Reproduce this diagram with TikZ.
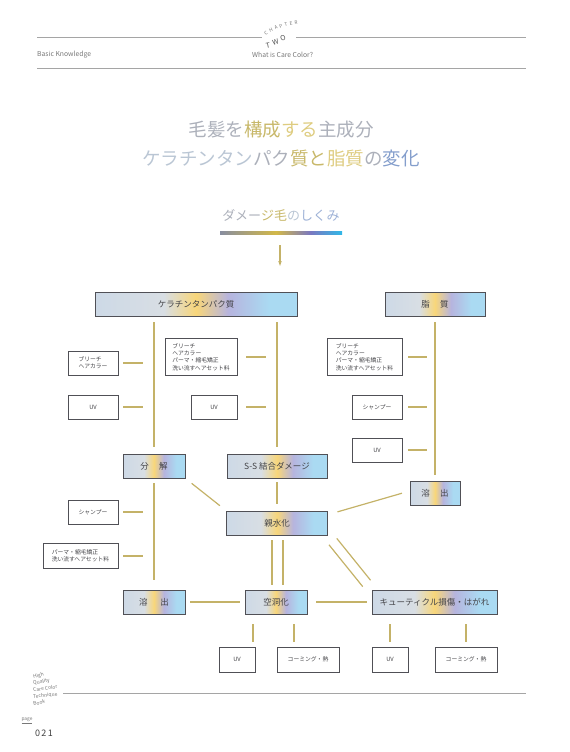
\documentclass[tikz,border=0pt]{standalone}
\usepackage{fontspec}
\setmainfont{Noto Sans CJK JP}
\usetikzlibrary{arrows.meta}

\definecolor{linegold}{RGB}{196,178,104}
\definecolor{boxline}{RGB}{80,80,86}
\definecolor{labelgray}{RGB}{68,68,72}
\definecolor{headgray}{RGB}{120,120,120}
\definecolor{rulegray}{RGB}{165,165,165}
\definecolor{shadeA}{RGB}{205,217,230}
\definecolor{shadeB}{RGB}{216,222,228}
\definecolor{shadeC}{RGB}{248,214,122}
\definecolor{shadeD}{RGB}{182,180,222}
\definecolor{shadeE}{RGB}{170,218,242}
\definecolor{barA}{RGB}{136,142,160}
\definecolor{barB}{RGB}{210,184,72}
\definecolor{barC}{RGB}{122,120,192}
\definecolor{barD}{RGB}{48,184,232}
\definecolor{tgray}{RGB}{172,176,186}
\definecolor{tlblue}{RGB}{186,198,212}
\definecolor{tgold}{RGB}{200,184,106}
\definecolor{tlgold}{RGB}{222,204,128}
\definecolor{tblue}{RGB}{132,158,204}

\pgfdeclarehorizontalshading{boxshade}{100bp}{color(0bp)=(shadeA); color(25bp)=(shadeA); color(42bp)=(shadeB); color(50bp)=(shadeC); color(58bp)=(shadeD); color(68bp)=(shadeE); color(100bp)=(shadeE)}
\pgfdeclarehorizontalshading{barshade}{100bp}{color(0bp)=(barA); color(25bp)=(barA); color(48bp)=(barB); color(62bp)=(barC); color(75bp)=(barD); color(100bp)=(barD)}

\begin{document}
\begin{tikzpicture}[x = 1pt, y = -1pt,
	link/.style = {draw = linegold, line width = 1.2pt},
	headline/.style = {draw = rulegray, line width = 0.8pt},
	mainbox/.style = {draw = boxline, line width = 0.7pt, shading = boxshade, text = labelgray,
		font = \fontsize{8.5}{10}\selectfont, inner sep = 0pt, minimum height = 24pt},
	subbox/.style = {draw = boxline, line width = 0.6pt, fill = white, text = labelgray,
		font = \fontsize{5.8}{7.2}\selectfont, inner sep = 0pt, align = left, minimum height = 24pt},
	headtext/.style = {text = headgray, font = \fontsize{6.8}{7}\selectfont, inner sep = 0pt}]
	\useasboundingbox (0,0) rectangle (570,752);

	% header
	\draw [headline] (37,37) -- (262,37);
	\draw [headline] (296,37) -- (526,37);
	\draw [headline] (37,68) -- (526,68);
	\node [headtext, anchor = west] (basic) at (37,55) {Basic Knowledge};
	\node [headtext, anchor = west] (whatis) at (252,55) {What is Care Color?};
	\foreach \ch/\px/\py/\ang [count = \i] in {C/266/33/32,H/271/30/26,A/276/27.6/20,P/281/26/15,T/286/24.6/11,E/291/23.6/7,R/296/23/4}{
	\node [headtext, font = \fontsize{4.8}{5}\selectfont, rotate = \ang] (chap\i) at (\px,\py) {\ch};
	}
	\foreach \ch/\px/\py/\ang [count = \i] in {T/268/45.5/10,W/275.5/42.5/18,O/283/38.5/24}{
	\node [headtext, text = black!70, font = \fontsize{7}{8}\selectfont, rotate = \ang] (two\i) at (\px,\py) {\ch};
	}

	% title
	\node [font = \fontsize{18.5}{20}\selectfont] (title1) at (281,130)
		{\color{tgray}毛髪を\color{tgold}構成\color{tlgold}する\color{tgray}主成分};
	\node [font = \fontsize{18.5}{20}\selectfont] (title2) at (281,158)
		{\color{tlblue}ケラチンタン\color{tgray}パク\color{tgold}質と\color{tlgold}脂質\color{tgray}の\color{tblue}変化};
	\node [font = \fontsize{13}{14}\selectfont] (subtitle) at (281,215)
		{\color{tgray}ダメー\color{tgold}ジ毛\color{tlblue}の\color{tblue!80}しくみ};
	\node [shading = barshade, minimum width = 122pt, minimum height = 2.4pt, inner sep = 0pt] (gradbar) at (281,233) {};
	\coordinate (arrowtop) at (280,245);
	\coordinate (arrowend) at (280,268);
	\draw [link, line width = 1.6pt, -{Latex[length = 7pt, width = 3.6pt]}] (arrowtop) -- (arrowend);

	% main boxes
	\node [mainbox, minimum width = 202pt] (kera) at (196,304) {ケラチンタンパク質};
	\node [mainbox, minimum width = 100pt] (shishitsu) at (435,304) {脂\hspace{1.2em}質};
	\node [mainbox, minimum width = 62pt] (bunkai) at (154,466) {分\hspace{1.2em}解};
	\node [mainbox, minimum width = 100pt] (ssbond) at (277,466) {S-S 結合ダメージ};
	\node [mainbox, minimum width = 50pt] (elutR) at (435,493) {溶\hspace{1.2em}出};
	\node [mainbox, minimum width = 101pt] (shinsui) at (277,523) {親水化};
	\node [mainbox, minimum width = 62pt] (elutL) at (154,602) {溶\hspace{1.5em}出};
	\node [mainbox, minimum width = 62pt] (kudou) at (276,602) {空洞化};
	\node [mainbox, minimum width = 125pt] (cuticle) at (434.5,602) {キューティクル損傷・はがれ};

	% cause boxes
	\node [subbox, minimum width = 50pt] (b1) at (93,363) {ブリーチ\\ヘアカラー};
	\node [subbox, minimum width = 50pt] (b2) at (93,407) {UV};
	\node [subbox, minimum width = 72pt, minimum height = 37pt] (b3) at (201,357) {ブリーチ\\ヘアカラー\\パーマ・縮毛矯正\\洗い流すヘアセット料};
	\node [subbox, minimum width = 46pt] (b4) at (214,407) {UV};
	\node [subbox, minimum width = 75pt, minimum height = 37pt] (b5) at (364.5,357) {ブリーチ\\ヘアカラー\\パーマ・縮毛矯正\\洗い流すヘアセット料};
	\node [subbox, minimum width = 50pt] (b6) at (377,407) {シャンプー};
	\node [subbox, minimum width = 50pt] (b7) at (377,450) {UV};
	\node [subbox, minimum width = 50pt] (b8) at (93,512) {シャンプー};
	\node [subbox, minimum width = 75pt, minimum height = 25pt] (b9) at (80.5,556) {パーマ・縮毛矯正\\洗い流すヘアセット料};
	\node [subbox, minimum width = 36pt, minimum height = 25pt] (b10) at (237,659.5) {UV};
	\node [subbox, minimum width = 62pt, minimum height = 25pt] (b11) at (308,659.5) {コーミング・熱};
	\node [subbox, minimum width = 36pt, minimum height = 25pt] (b12) at (390,659.5) {UV};
	\node [subbox, minimum width = 62pt, minimum height = 25pt] (b13) at (466,659.5) {コーミング・熱};

	% connectors
	\draw [link, shorten <= 6pt, shorten >= 7pt] (kera.south -| bunkai.north) -- (bunkai.north);
	\draw [link, shorten <= 6pt, shorten >= 7pt] (kera.south -| ssbond.north) -- (ssbond.north);
	\draw [link, shorten <= 6pt, shorten >= 6pt] (shishitsu.south) -- (elutR.north);
	\foreach \b in {b1,b2,b8,b9}{
	\draw [link, shorten <= 5pt, shorten >= 11pt] (\b.east) -- (\b.east -| bunkai.center);
	}
	\foreach \b in {b3,b4}{
	\draw [link, shorten <= 9pt, shorten >= 11pt] (\b.east) -- (\b.east -| ssbond.center);
	}
	\foreach \b in {b5,b6,b7}{
	\draw [link, shorten <= 6pt, shorten >= 8pt] (\b.east) -- (\b.east -| elutR.center);
	}
	\draw [link, shorten <= 5pt, shorten >= 10pt] (bunkai.south) -- (elutL.north);
	\draw [link, shorten <= 4pt, shorten >= 7pt] (ssbond.south) -- (shinsui.north);
	\draw [link, shorten <= 8pt, shorten >= 8pt] (bunkai.south east) -- (shinsui.north west);
	\draw [link, shorten <= 8pt, shorten >= 10pt] ([yshift = 2pt]elutR.west) -- ([yshift = -4pt]shinsui.north east);
	\foreach \dx in {-5,6}{
	\draw [link, shorten <= 5pt, shorten >= 5pt] ([xshift = \dx pt]shinsui.south) -- ([xshift = \dx pt]shinsui.south |- kudou.north);
	}
	\draw [link, shorten <= 8pt, shorten >= 8pt] ([shift = {(-3.9pt,-3.2pt)}]shinsui.south east) -- ([shift = {(-3.9pt,-3.2pt)}]cuticle.north west);
	\draw [link, shorten <= 8pt, shorten >= 8pt] ([shift = {(3.9pt,3.2pt)}]shinsui.south east) -- ([shift = {(3.9pt,3.2pt)}]cuticle.north west);
	\draw [link, shorten <= 5pt, shorten >= 5pt] (elutL.east) -- (kudou.west);
	\draw [link, shorten <= 9pt, shorten >= 5pt] (kudou.east) -- (cuticle.west);
	\draw [link, shorten <= 5pt, shorten >= 10pt] ([xshift = 16pt]b10.north) -- ([xshift = 16pt]b10.north |- kudou.south);
	\draw [link, shorten <= 5pt, shorten >= 10pt] ([xshift = -14pt]b11.north) -- ([xshift = -14pt]b11.north |- kudou.south);
	\draw [link, shorten <= 5pt, shorten >= 10pt] (b12.north) -- (b12.north |- cuticle.south);
	\draw [link, shorten <= 5pt, shorten >= 10pt] (b13.north) -- (b13.north |- cuticle.south);

	% footer
	\draw [headline] (63,693) -- (526,693);
	\foreach \txt/\py/\ang [count = \i] in {High/677/14,Quality/683.5/11,Care Color/690/8,Technique/697/6,Book/704/12}{
	\node [headtext, anchor = west, font = \fontsize{5}{5}\selectfont, rotate = \ang] (book\i) at (33,\py) {\txt};
	}
	\node [headtext, font = \fontsize{4.8}{5}\selectfont] (pagelbl) at (27,721) {\underline{page}};
	\node [headtext, text = black!75, font = \fontsize{9}{10}\selectfont] (pagenum) at (44,733) {0\,2\,1};
\end{tikzpicture}
\end{document}
